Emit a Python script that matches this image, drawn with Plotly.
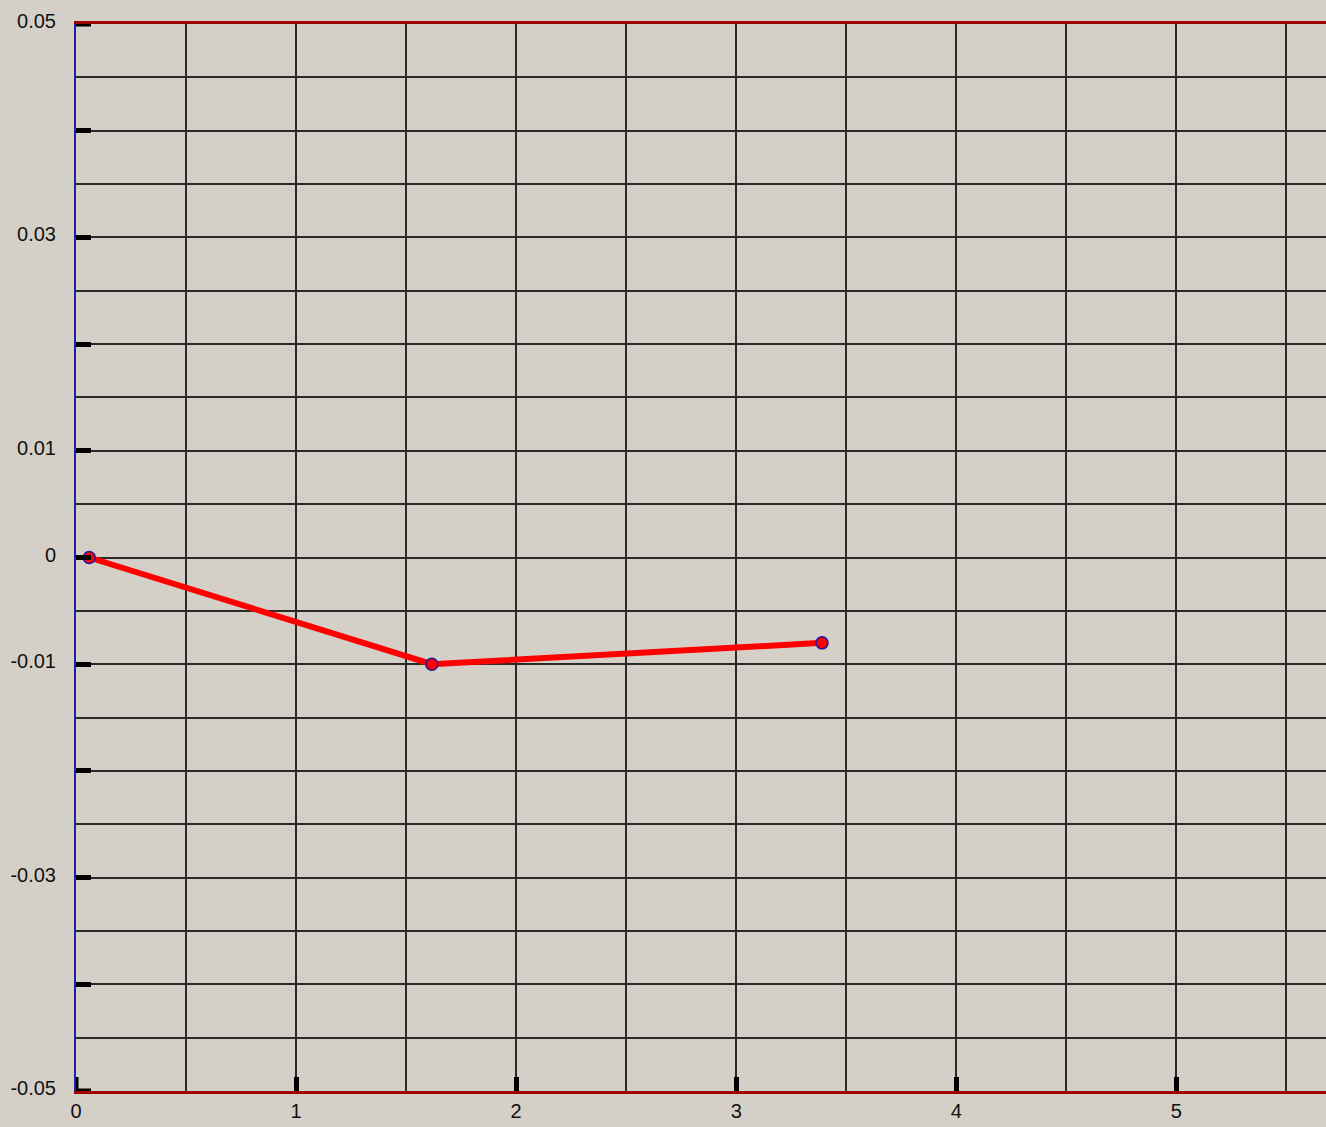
import plotly.graph_objects as go

x_vals = [0.06, 1.617, 3.39]
y_vals = [0.0, -0.01, -0.008]

y_tickvals = [0.05, 0.04, 0.03, 0.02, 0.01, 0.0, -0.01, -0.02, -0.03, -0.04, -0.05]
y_ticktext = ["0.05", "", "0.03", "", "0.01", "0", "-0.01", "", "-0.03", "", "-0.05"]
x_tickvals = [0, 1, 2, 3, 4, 5]
x_ticktext = ["0", "1", "2", "3", "4", "5"]

BG = "#D4D0C8"
GRID = "#2a2a2a"

fig = go.Figure()
fig.add_trace(go.Scatter(
    x=x_vals, y=y_vals, mode="lines+markers",
    line=dict(color="#ff0000", width=6),
    marker=dict(color="#ff0000", size=12, line=dict(color="#1a1a9a", width=1.5)),
    showlegend=False,
))

fig.update_layout(
    width=1326, height=1127,
    margin=dict(l=76, r=0, t=24, b=36),
    paper_bgcolor=BG, plot_bgcolor=BG,
    font=dict(family="Liberation Sans, Arial, sans-serif", size=20, color="#111111"),
)

fig.update_xaxes(
    range=[0, 5.68],
    tickvals=x_tickvals, ticktext=x_ticktext,
    ticks="inside", ticklen=14, tickwidth=5, tickcolor="#000000",
    showgrid=True, gridcolor=GRID, gridwidth=2,
    minor=dict(dtick=0.5, tick0=0, showgrid=True, gridcolor=GRID, gridwidth=2, ticks=""),
    showline=True, linecolor="#a00000", linewidth=3, mirror=True,
    zeroline=False, ticklabelstandoff=0,
)
fig.update_yaxes(
    range=[-0.05, 0.05],
    tickvals=y_tickvals, ticktext=y_ticktext,
    ticks="inside", ticklen=15, tickwidth=5, tickcolor="#000000",
    showgrid=True, gridcolor=GRID, gridwidth=2,
    minor=dict(dtick=0.005, tick0=0, showgrid=True, gridcolor=GRID, gridwidth=2, ticks=""),
    showline=True, linecolor="#2020a0", linewidth=2, mirror=False,
    zeroline=False, ticklabelstandoff=14, ticklabelshift=-3,
)

# edge tick marks that plotly suppresses at the range ends
x0 = x_tickvals[0]
for yv in (y_tickvals[0], y_tickvals[-1]):
    fig.add_shape(type="line", xref="x", yref="y", xsizemode="pixel", xanchor=x0,
                  x0=0, x1=15, y0=yv, y1=yv, line=dict(color="#000000", width=5))
fig.add_shape(type="line", xref="x", yref="y", ysizemode="pixel", yanchor=y_tickvals[-1],
              y0=0, y1=14, x0=x0 + 0.0, x1=x0 + 0.0, line=dict(color="#000000", width=5))

fig.write_html("out.html", config={"displayModeBar": False},
               post_script="document.body.style.margin='0px';")
